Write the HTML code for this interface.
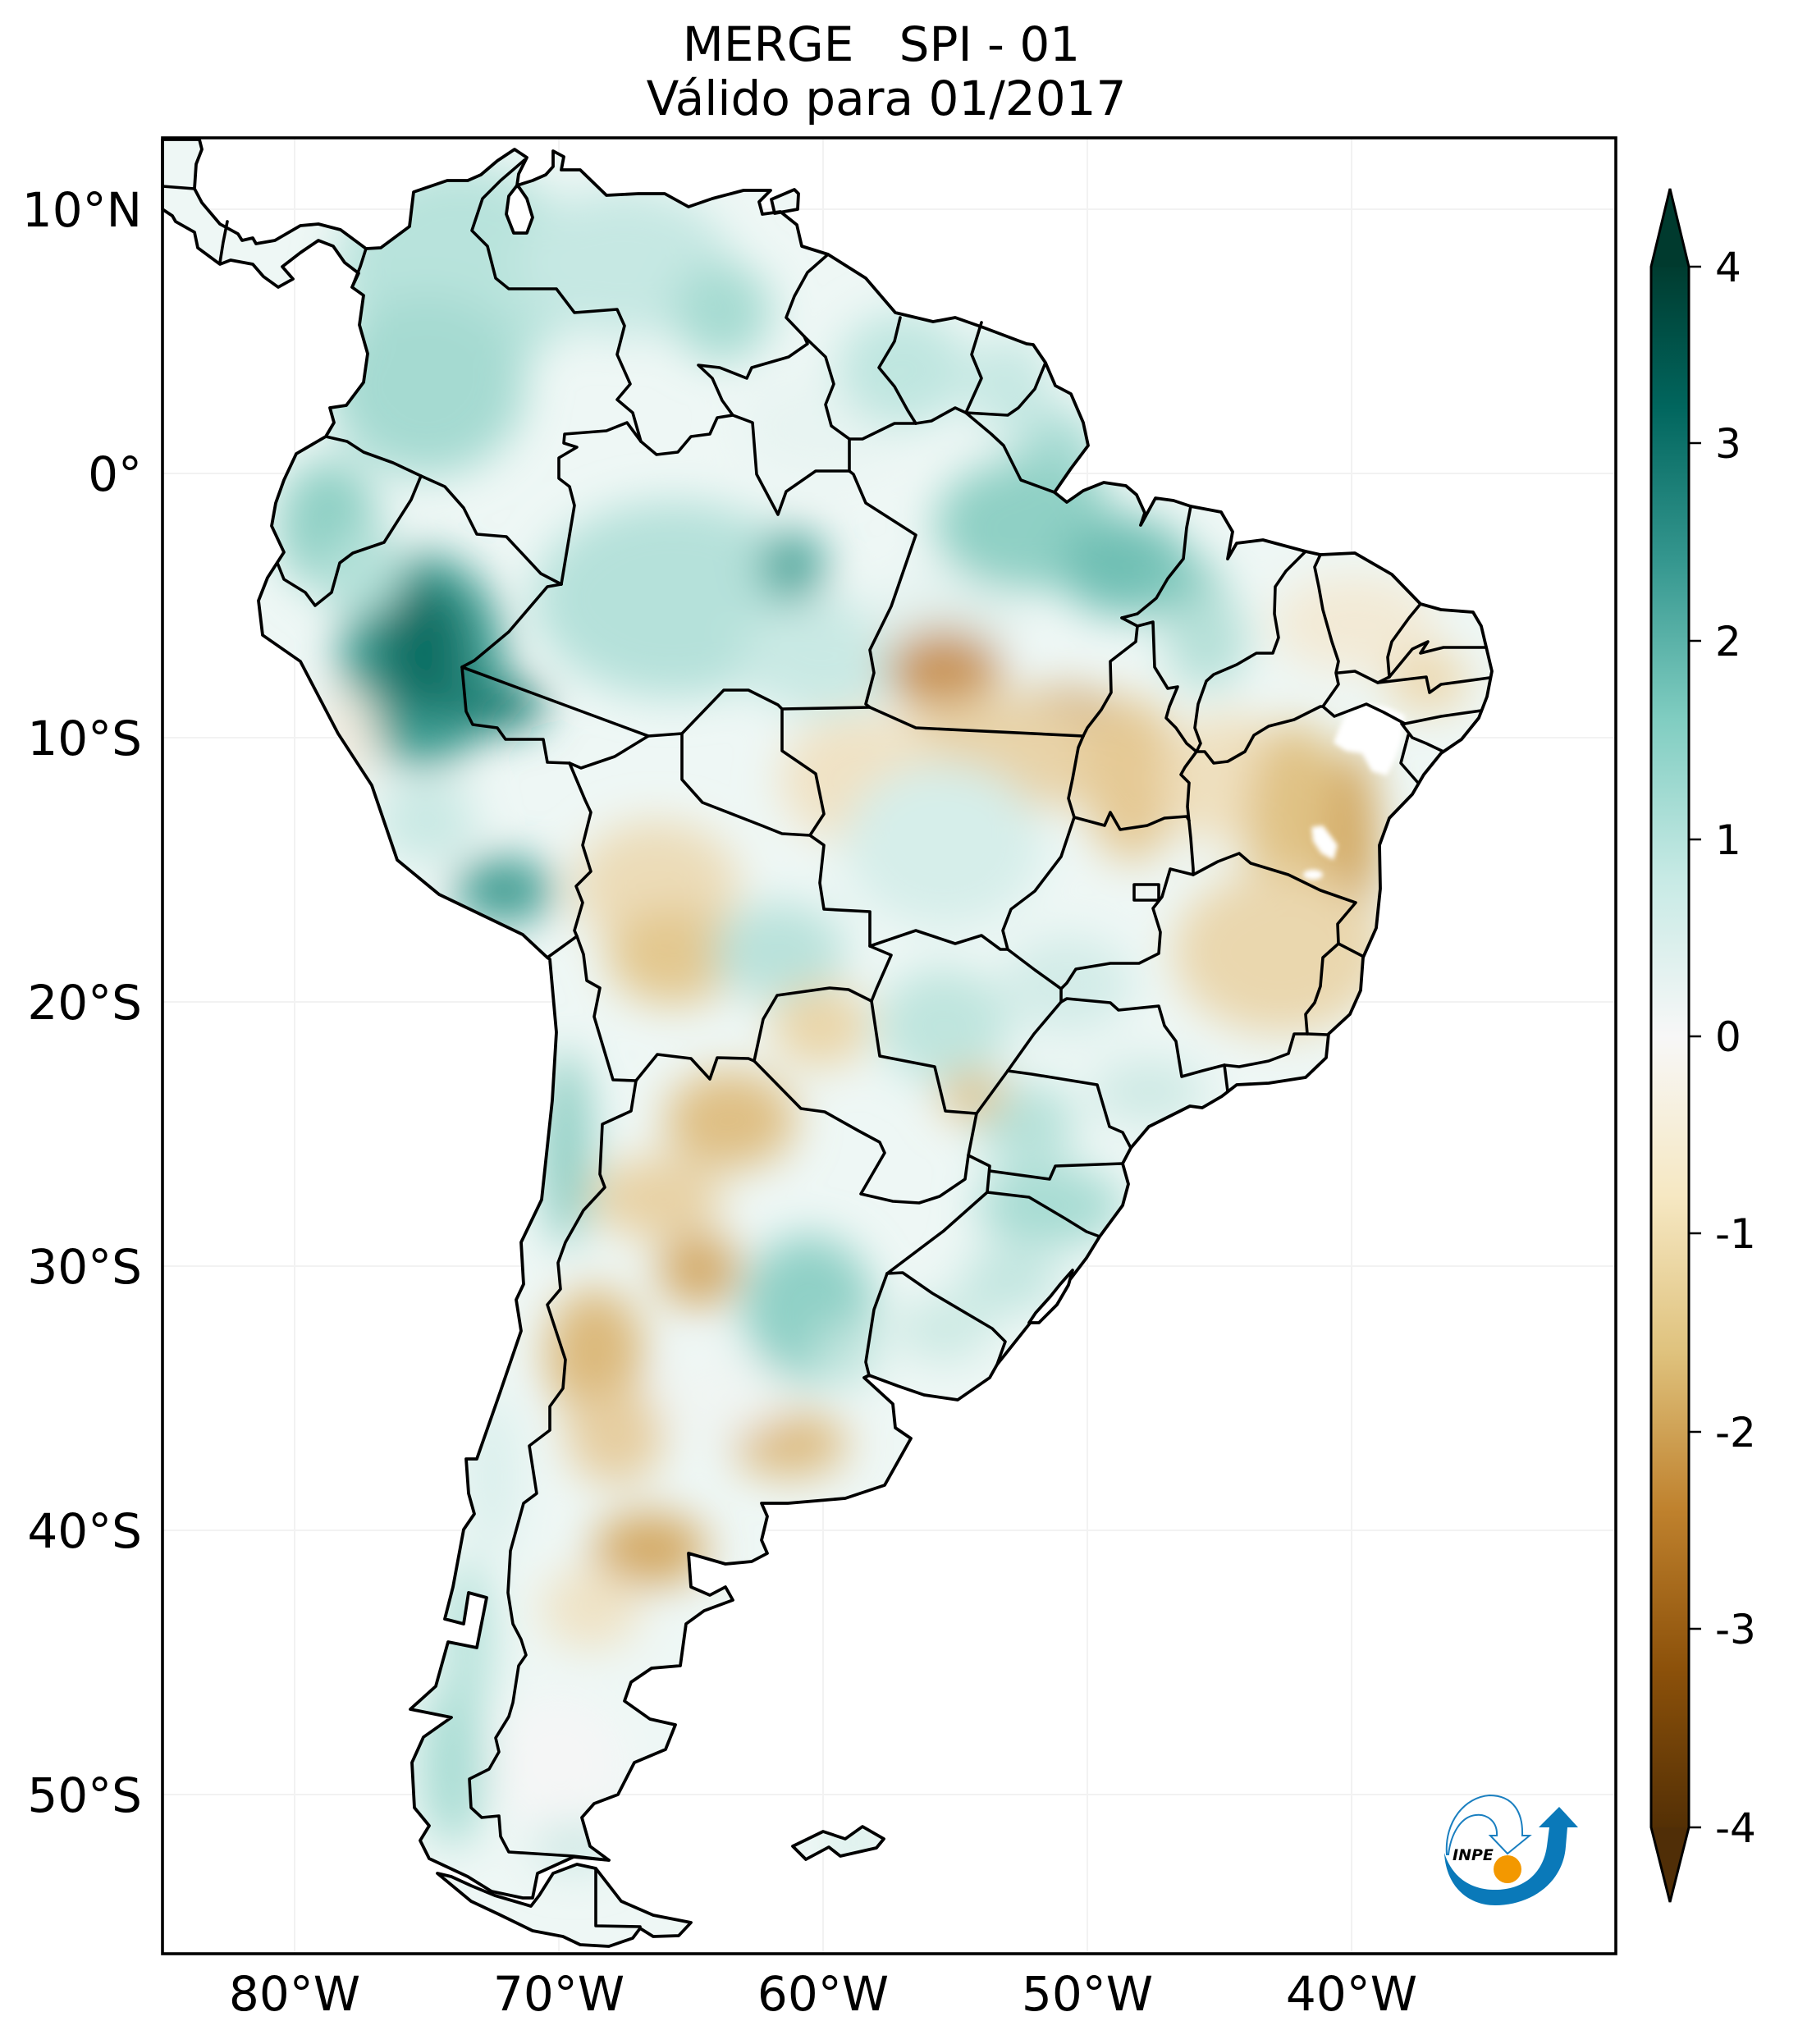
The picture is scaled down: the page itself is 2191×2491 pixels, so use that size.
<!DOCTYPE html>
<html><head><meta charset="utf-8"><style>
html,body{margin:0;padding:0;background:#fff;}
svg{display:block;}
text{font-family:"DejaVu Sans","Liberation Sans",sans-serif;fill:#000;}
</style></head><body>
<svg width="2191" height="2491" viewBox="0 0 2191 2491" xmlns="http://www.w3.org/2000/svg">
<defs>
<path id="main" d="M198,170 L243,170 246,182 239,200 237,230 246,247 268,273 290,285 295,293 308,290 312,297 335,293 366,275 388,273 415,280 446,303 464,302 499,276 504,234 545,220 570,220 586,213 606,196 627,182 642,192 632,212 630,226 649,220 665,213 674,203 674,184 687,191 684,207 707,207 739,238 778,236 810,236 839,252 868,242 906,232 939,232 925,246 929,261 951,258 971,274 977,300 1009,310 1055,339 1091,381 1137,392 1164,387 1198,399 1251,419 1259,420 1274,442 1286,470 1305,480 1320,515 1326,543 1305,571 1285,600 1300,612 1320,598 1345,588 1372,592 1385,603 1395,625 1390,640 1408,607 1430,610 1451,617 1488,624 1502,648 1496,681 1507,662 1539,658 1591,672 1609,676 1651,674 1696,700 1731,736 1756,743 1795,746 1805,763 1818,818 1812,849 1802,875 1781,901 1756,918 1735,944 1721,968 1693,997 1681,1030 1682,1083 1677,1131 1661,1167 1658,1207 1645,1236 1619,1260 1616,1289 1591,1313 1546,1320 1507,1322 1489,1336 1465,1350 1450,1348 1400,1373 1378,1399 1368,1418 1375,1443 1368,1469 1340,1507 1324,1533 1305,1558 1273,1590 1250,1619 1215,1663 1206,1679 1167,1706 1126,1700 1094,1689 1059,1676 1053,1679 1088,1711 1091,1740 1110,1753 1078,1810 1030,1826 960,1832 928,1832 935,1848 928,1877 935,1893 916,1903 884,1906 839,1893 842,1934 865,1944 884,1934 893,1950 858,1963 836,1979 829,2030 794,2033 769,2050 761,2073 792,2095 823,2102 811,2132 773,2148 753,2187 724,2198 709,2215 719,2250 742,2267 699,2263 655,2283 649,2313 637,2313 599,2305 570,2287 523,2265 512,2243 523,2225 505,2203 502,2148 516,2117 550,2093 500,2083 531,2055 546,2001 581,2008 593,1947 571,1941 565,1979 542,1973 552,1934 565,1864 578,1845 571,1820 568,1778 581,1778 609,1698 635,1622 629,1584 638,1565 635,1514 660,1462 673,1341 678,1258 670,1169 667,1167 637,1139 535,1090 484,1048 453,957 412,894 366,806 320,774 315,732 326,704 346,673 331,641 336,613 346,585 361,553 397,532 407,515 402,497 422,494 443,466 448,431 438,396 443,360 429,350 437,333 420,320 406,300 388,293 366,308 344,325 357,340 339,350 321,337 308,322 281,317 268,322 241,302 237,283 214,270 210,263 198,255 Z"/>
<path id="tdf" d="M647,2323 L657,2310 674,2283 703,2272 726,2277 757,2317 796,2334 842,2343 827,2359 796,2360 780,2350 771,2362 742,2372 707,2370 686,2360 649,2353 608,2333 574,2317 533,2283 550,2287 574,2298 603,2310 Z"/>
<path id="falk" d="M966,2250 L1003,2232 1030,2241 1051,2226 1077,2241 1068,2252 1024,2262 1010,2251 982,2266 Z"/>
<path id="trin" d="M940,243 L968,231 973,236 972,255 944,260 Z"/>
<clipPath id="landclip">
<use href="#main"/><use href="#tdf"/><use href="#falk"/><use href="#trin"/>
</clipPath>
<filter id="blur" filterUnits="userSpaceOnUse" x="0" y="0" width="2191" height="2491">
<feGaussianBlur stdDeviation="26"/>
</filter>
<filter id="blur2" filterUnits="userSpaceOnUse" x="0" y="0" width="2191" height="2491">
<feGaussianBlur stdDeviation="3"/>
</filter>
<linearGradient id="cbg" gradientUnits="userSpaceOnUse" x1="0" y1="325" x2="0" y2="2227">
<stop offset="0" stop-color="#003c30"/>
<stop offset="0.0904" stop-color="#01665e"/>
<stop offset="0.1893" stop-color="#35978f"/>
<stop offset="0.2902" stop-color="#80cdc1"/>
<stop offset="0.3917" stop-color="#c7eae5"/>
<stop offset="0.4932" stop-color="#f7f7f7"/>
<stop offset="0.5946" stop-color="#f6e8c3"/>
<stop offset="0.6961" stop-color="#dfc27d"/>
<stop offset="0.7970" stop-color="#bf812d"/>
<stop offset="0.8985" stop-color="#8c510a"/>
<stop offset="1" stop-color="#543005"/>
</linearGradient>
</defs>

<!-- faint gridlines -->
<g stroke="#f2f2f2" stroke-width="2" fill="none">
<line x1="359" y1="170" x2="359" y2="2381"/><line x1="681" y1="170" x2="681" y2="2381"/><line x1="1003" y1="170" x2="1003" y2="2381"/><line x1="1325" y1="170" x2="1325" y2="2381"/><line x1="1647" y1="170" x2="1647" y2="2381"/>
<line x1="198" y1="255" x2="1969" y2="255"/><line x1="198" y1="577" x2="1969" y2="577"/><line x1="198" y1="899" x2="1969" y2="899"/><line x1="198" y1="1221" x2="1969" y2="1221"/><line x1="198" y1="1543" x2="1969" y2="1543"/><line x1="198" y1="1865" x2="1969" y2="1865"/><line x1="198" y1="2187" x2="1969" y2="2187"/>
</g>

<!-- land fill -->
<g clip-path="url(#landclip)">
<rect x="198" y="168" width="1771" height="2213" fill="#eef7f5"/>
<g filter="url(#blur)">
<ellipse cx="560" cy="330" rx="150" ry="130" fill="#b8e3dc"/>
<ellipse cx="520" cy="470" rx="120" ry="110" fill="#a5dad1"/>
<ellipse cx="760" cy="320" rx="130" ry="90" fill="#c6e8e3"/>
<ellipse cx="880" cy="380" rx="60" ry="60" fill="#a6dbd2"/>
<ellipse cx="1000" cy="520" rx="100" ry="60" fill="#e8f4f2"/>
<ellipse cx="1100" cy="450" rx="80" ry="70" fill="#bfe6e0"/>
<ellipse cx="1230" cy="470" rx="50" ry="60" fill="#c6e8e3"/>
<ellipse cx="1290" cy="560" rx="50" ry="60" fill="#a8dcd4"/>
<ellipse cx="820" cy="730" rx="170" ry="120" fill="#b5e1da"/>
<ellipse cx="966" cy="690" rx="40" ry="45" fill="#4fa79d"/>
<ellipse cx="1000" cy="800" rx="100" ry="70" fill="#c9e9e4"/>
<ellipse cx="1250" cy="640" rx="110" ry="80" fill="#8fd0c5"/>
<ellipse cx="1370" cy="690" rx="80" ry="60" fill="#6fbfb4"/>
<ellipse cx="1440" cy="720" rx="50" ry="40" fill="#7ec7bc"/>
<ellipse cx="1150" cy="760" rx="90" ry="60" fill="#e3f2ef"/>
<ellipse cx="515" cy="805" rx="100" ry="130" fill="#3e9d92"/>
<ellipse cx="515" cy="790" rx="55" ry="80" fill="#0f6e64"/>
<ellipse cx="605" cy="860" rx="60" ry="30" fill="#177a70"/>
<ellipse cx="400" cy="640" rx="60" ry="80" fill="#8fd0c5"/>
<ellipse cx="440" cy="700" rx="50" ry="50" fill="#b5e2da"/>
<ellipse cx="420" cy="900" rx="40" ry="60" fill="#f2ece0"/>
<ellipse cx="615" cy="1085" rx="60" ry="40" fill="#3f9c92"/>
<ellipse cx="520" cy="1000" rx="60" ry="50" fill="#c9e9e4"/>
<ellipse cx="1150" cy="815" rx="70" ry="50" fill="#c9955a"/>
<ellipse cx="1290" cy="875" rx="80" ry="35" fill="#c79a5e"/>
<ellipse cx="1220" cy="920" rx="150" ry="70" fill="#e8d3a8"/>
<ellipse cx="1050" cy="950" rx="100" ry="80" fill="#f0e2c4"/>
<ellipse cx="1150" cy="1030" rx="120" ry="100" fill="#d6eeea"/>
<ellipse cx="1380" cy="950" rx="60" ry="100" fill="#e5c994"/>
<ellipse cx="1500" cy="950" rx="80" ry="80" fill="#efe0bf"/>
<ellipse cx="1580" cy="1000" rx="60" ry="120" fill="#e0c285"/>
<ellipse cx="1650" cy="1030" rx="30" ry="120" fill="#d2a862"/>
<ellipse cx="1560" cy="1160" rx="130" ry="100" fill="#ead7ae"/>
<ellipse cx="1470" cy="780" rx="50" ry="60" fill="#b5e0d8"/>
<ellipse cx="1650" cy="760" rx="100" ry="60" fill="#f3ead6"/>
<ellipse cx="1740" cy="830" rx="50" ry="40" fill="#ecd9b1"/>
<ellipse cx="1300" cy="1200" rx="80" ry="60" fill="#d3ece8"/>
<ellipse cx="1150" cy="1250" rx="80" ry="70" fill="#bfe5de"/>
<ellipse cx="1400" cy="1330" rx="70" ry="40" fill="#cfeae5"/>
<ellipse cx="1250" cy="1370" rx="60" ry="50" fill="#b5e1d9"/>
<ellipse cx="1280" cy="1470" rx="90" ry="50" fill="#a7dcd3"/>
<ellipse cx="1230" cy="1560" rx="60" ry="40" fill="#c2e6e0"/>
<ellipse cx="1185" cy="1335" rx="40" ry="30" fill="#e0c38a"/>
<ellipse cx="800" cy="1080" rx="100" ry="80" fill="#ecdcb8"/>
<ellipse cx="820" cy="1165" rx="80" ry="60" fill="#e3c88f"/>
<ellipse cx="950" cy="1160" rx="80" ry="60" fill="#b9e2db"/>
<ellipse cx="1000" cy="1250" rx="60" ry="50" fill="#ead5a8"/>
<ellipse cx="890" cy="1365" rx="80" ry="60" fill="#dfbf84"/>
<ellipse cx="800" cy="1460" rx="80" ry="50" fill="#e8d2a5"/>
<ellipse cx="690" cy="1400" rx="30" ry="120" fill="#8ccdc2"/>
<ellipse cx="852" cy="1548" rx="50" ry="45" fill="#d4ab6b"/>
<ellipse cx="985" cy="1595" rx="80" ry="90" fill="#8fd0c6"/>
<ellipse cx="725" cy="1650" rx="60" ry="80" fill="#dcb97b"/>
<ellipse cx="750" cy="1750" rx="60" ry="60" fill="#e6cea0"/>
<ellipse cx="962" cy="1760" rx="70" ry="40" fill="#ddbb80"/>
<ellipse cx="880" cy="1700" rx="80" ry="50" fill="#f0f5f3"/>
<ellipse cx="792" cy="1888" rx="70" ry="45" fill="#d4aa66"/>
<ellipse cx="720" cy="1960" rx="60" ry="50" fill="#efe3c6"/>
<ellipse cx="1150" cy="1620" rx="60" ry="40" fill="#cdeae4"/>
<ellipse cx="1030" cy="1650" rx="40" ry="40" fill="#bfe4dd"/>
<ellipse cx="600" cy="1800" rx="30" ry="100" fill="#d9efec"/>
<ellipse cx="570" cy="2000" rx="30" ry="100" fill="#b5e2da"/>
<ellipse cx="552" cy="2150" rx="40" ry="100" fill="#a9ddd4"/>
<ellipse cx="680" cy="2150" rx="80" ry="80" fill="#f5f6f6"/>
<ellipse cx="700" cy="2250" rx="50" ry="30" fill="#cfe9e5"/>
<ellipse cx="1040" cy="2245" rx="30" ry="12" fill="#b5e2da"/>
</g>
<g fill="#ffffff" filter="url(#blur2)">
<path d="M1640,870 L1665,858 1690,862 1712,872 1708,900 1700,925 1690,945 1672,940 1660,918 1640,915 1625,905 1632,888 Z"/>
<path d="M1598,1008 L1612,1006 1630,1030 1625,1048 1610,1040 1600,1025 Z"/>
<ellipse cx="1600" cy="1066" rx="12" ry="6"/>
</g>
</g>

<!-- coast outlines -->
<g fill="none" stroke="#000" stroke-width="3.8" stroke-linejoin="round" stroke-linecap="round">
<use href="#main"/><use href="#tdf"/><use href="#falk"/><use href="#trin"/>
<path d="M630,226 L620,239 617,261 626,284 642,284 649,265 642,242 633,229 Z" fill="#fff"/>
<path d="M1254,1612 L1262,1600 1280,1580 1292,1565 1307,1548 1302,1566 1288,1590 1266,1612 Z" fill="#fff"/>
</g>

<!-- borders -->
<g fill="none" stroke="#000" stroke-width="3.6" stroke-linejoin="round" stroke-linecap="round">
<polyline points="446,303 439,325 429,350"/>
<polyline points="198,227 237,230"/>
<polyline points="277,270 272,295 268,320"/>
<polyline points="639,195 610,220 588,242 575,281 594,300 604,339 620,352 678,352 700,381 752,377 761,397 752,432 768,468 752,487 771,503 781,538"/>
<polyline points="781,538 764,515 739,525 688,529 687,540 703,545 681,558 681,583 694,593 700,616 684,712"/>
<polyline points="684,712 659,699 617,654 581,651 565,619 542,593 513,580"/>
<polyline points="513,580 479,564 443,551 423,538 397,532"/>
<polyline points="513,580 501,609 468,661 430,674 414,686 404,722 384,738 372,722 346,706 338,686"/>
<polyline points="684,712 667,715 620,770 578,805 563,813 568,867 576,883 606,887 616,901 662,901 667,929 694,930"/>
<polyline points="694,930 713,975 720,990 710,1030 720,1062 702,1080 710,1100 700,1134 703,1141"/>
<polyline points="667,1167 703,1141"/>
<polyline points="703,1141 711,1163 715,1195 731,1204 724,1239 747,1316 775,1317"/>
<polyline points="775,1317 769,1354 734,1370 731,1431 737,1447 711,1475 689,1514 680,1539 683,1571 667,1590 689,1657 686,1692 670,1714 670,1743 645,1762 654,1820 638,1832 622,1890 619,1941 625,1979 635,1998 641,2017 632,2030 625,2075 620,2092 604,2118 608,2135 596,2156 572,2168 574,2203 587,2215 608,2213 610,2238 620,2257 699,2262 742,2267"/>
<polyline points="726,2277 726,2347 780,2348"/>
<polyline points="775,1317 801,1285 842,1290 865,1315 874,1289 912,1290 919,1293"/>
<polyline points="919,1293 930,1242 947,1213 1011,1204 1034,1206 1062,1220"/>
<polyline points="919,1293 976,1351 1005,1355 1046,1378 1072,1392 1078,1405 1049,1455 1088,1464 1120,1466 1145,1458 1176,1437 1180,1408"/>
<polyline points="1062,1220 1072,1287 1139,1300 1152,1354 1190,1357 1180,1408"/>
<polyline points="1180,1408 1206,1421 1203,1453 1150,1500 1081,1552"/>
<polyline points="1081,1552 1065,1596 1055,1660 1059,1676"/>
<polyline points="1081,1552 1100,1551 1136,1576 1209,1619 1225,1635 1215,1663"/>
<polyline points="694,930 708,936 749,922 790,897 831,894 831,950 856,978 928,1006 953,1016 987,1018 1004,1030 999,1076 1004,1108 1060,1111 1060,1153 1086,1164 1068,1205 1062,1220"/>
<polyline points="781,538 800,554 826,551 842,532 865,529 874,509 893,506 880,488 868,461 851,445 877,448 910,461 916,448 961,435 984,419 980,410"/>
<polyline points="1009,310 984,332 968,361 958,387 980,410"/>
<polyline points="980,410 1006,435 1016,468 1006,493 1013,519 1035,535 1051,535 1090,516 1116,516"/>
<polyline points="1097,387 1090,416 1071,448 1090,471 1106,500 1116,516"/>
<polyline points="1116,516 1135,513 1164,497 1177,503"/>
<polyline points="1196,393 1184,432 1196,461 1177,503"/>
<polyline points="1177,503 1228,506 1241,497 1261,474 1274,442"/>
<!-- Brazilian states -->
<polyline points="1177,503 1208,529 1223,543 1244,585 1285,600"/>
<polyline points="893,506 917,515 922,578 948,627 958,599 994,574 1035,574"/>
<polyline points="1035,535 1035,574"/>
<polyline points="1035,574 1040,578 1055,613 1116,652 1086,739 1060,792 1065,820 1055,858 1060,862"/>
<polyline points="563,813 790,897"/>
<polyline points="831,894 882,841 912,841 948,859 953,864 1060,862"/>
<polyline points="953,864 953,915 994,943 1004,992 987,1018"/>
<polyline points="1060,862 1116,887 1320,897"/>
<polyline points="1451,617 1446,643 1442,681 1423,705 1409,729 1386,748 1367,753"/>
<polyline points="1367,753 1386,763 1384,782 1353,806 1354,844 1342,865 1325,887 1320,897"/>
<polyline points="1320,897 1314,911 1307,949 1302,973 1309,996"/>
<polyline points="1386,763 1405,758 1407,813 1423,839 1435,837 1425,861 1421,875 1433,887 1446,906 1458,916"/>
<polyline points="1591,672 1567,696 1554,715 1553,748 1558,777 1551,796 1531,796 1507,810 1479,822 1470,830 1460,858 1456,887 1463,906 1458,916"/>
<polyline points="1458,916 1444,935 1439,944 1449,954 1447,983 1451,1021 1454,1059 1454,1066"/>
<polyline points="1309,996 1346,1006 1353,990 1365,1011 1398,1006 1419,997 1446,995 1449,1000"/>
<polyline points="1458,916 1468,916 1479,930 1496,928 1517,916 1528,896 1546,885 1577,877 1609,861 1612,861"/>
<polyline points="1609,676 1602,691 1607,715 1612,743 1623,782 1631,806 1628,820 1631,834 1612,861"/>
<polyline points="1731,736 1717,753 1696,782 1691,801 1693,825"/>
<polyline points="1631,820 1651,818 1679,832 1693,825"/>
<polyline points="1693,825 1721,791 1740,782 1731,796 1759,789 1810,789"/>
<polyline points="1679,832 1738,825 1742,844 1756,834 1815,826"/>
<polyline points="1612,861 1626,873 1665,858 1686,868 1712,882"/>
<polyline points="1712,882 1756,873 1805,866"/>
<polyline points="1708,882 1721,899 1738,906 1759,916"/>
<polyline points="1716,896 1707,930 1728,954"/>
<polyline points="1454,1066 1484,1050 1510,1040 1524,1052 1570,1066 1609,1085 1652,1100 1630,1126 1631,1150"/>
<polyline points="1631,1150 1660,1165"/>
<polyline points="1631,1150 1612,1167 1609,1202 1602,1222 1591,1236 1593,1260"/>
<polyline points="1593,1260 1618,1261"/>
<polyline points="1593,1260 1577,1260 1570,1284 1546,1293 1510,1300 1492,1298"/>
<polyline points="1492,1298 1465,1305 1440,1312 1433,1269 1419,1250 1412,1226 1363,1231 1353,1222 1300,1217 1293,1221"/>
<polyline points="1492,1298 1496,1330"/>
<polyline points="1293,1205 1300,1198 1311,1181 1353,1174 1388,1174 1412,1162 1414,1136 1405,1107 1416,1093 1426,1059 1454,1066"/>
<rect x="1382" y="1078" width="30" height="19"/>
<polyline points="1309,996 1293,1044 1261,1086 1232,1108 1222,1134 1228,1157"/>
<polyline points="1228,1157 1261,1182 1293,1205 1293,1221"/>
<polyline points="1060,1153 1116,1134 1164,1150 1196,1140 1219,1157 1228,1157"/>
<polyline points="1293,1221 1260,1260 1228,1305 1190,1357"/>
<polyline points="1228,1305 1257,1309 1337,1322 1352,1373 1368,1380 1378,1399"/>
<polyline points="1206,1427 1279,1437 1286,1421 1368,1418"/>
<polyline points="1203,1453 1254,1459 1298,1485 1324,1501 1340,1507"/>
</g>

<!-- INPE logo -->
<g>
<path d="M1760,2258 C1762,2300 1790,2322 1822,2322 C1865,2322 1905,2295 1908,2250 L1910,2227 L1923,2227 L1900,2202 L1875,2227 L1888,2227 L1885,2250 C1880,2285 1855,2302 1825,2303 C1795,2304 1770,2290 1760,2258 Z" fill="#0a79b9"/>
<path d="M1763,2260 C1760,2220 1785,2190 1815,2188 C1845,2188 1856,2210 1855,2237 L1864,2237 L1837,2259 L1816,2237 L1824,2237 C1825,2220 1812,2210 1798,2212 C1780,2214 1768,2235 1765,2260 Z" fill="#fff" stroke="#1a7fc0" stroke-width="2"/>
<circle cx="1837" cy="2278" r="17" fill="#f39800"/>
<text x="1770" y="2267" font-size="19" font-style="italic" font-weight="bold">INPE</text>
</g>

<!-- frame -->
<rect x="198" y="168" width="1771" height="2213" fill="none" stroke="#000" stroke-width="3.6"/>

<!-- title -->
<text x="1074" y="74" font-size="58" text-anchor="middle" xml:space="preserve" style="white-space:pre">MERGE   SPI - 01</text>
<text x="1080" y="140" font-size="58" text-anchor="middle">Válido para 01/2017</text>

<!-- y labels -->
<g font-size="58" text-anchor="end">
<text x="173" y="276">10°N</text>
<text x="173" y="598">0°</text>
<text x="173" y="920">10°S</text>
<text x="173" y="1242">20°S</text>
<text x="173" y="1564">30°S</text>
<text x="173" y="1886">40°S</text>
<text x="173" y="2208">50°S</text>
</g>
<!-- x labels -->
<g font-size="58" text-anchor="middle">
<text x="359" y="2450">80°W</text>
<text x="681" y="2450">70°W</text>
<text x="1003" y="2450">60°W</text>
<text x="1325" y="2450">50°W</text>
<text x="1647" y="2450">40°W</text>
</g>

<!-- colorbar -->
<path d="M2012,325 L2035,230 L2058,325 Z" fill="#003a2e"/>
<path d="M2012,2227 L2035,2318 L2058,2227 Z" fill="#502e07"/>
<rect x="2012" y="325" width="46" height="1902" fill="url(#cbg)"/>
<path d="M2012,325 L2035,230 L2058,325 L2058,2227 L2035,2318 L2012,2227 Z" fill="none" stroke="#000" stroke-width="3" stroke-linejoin="miter"/>
<g stroke="#000" stroke-width="2.5">
<line x1="2058" y1="325" x2="2073" y2="325"/>
<line x1="2058" y1="540" x2="2073" y2="540"/>
<line x1="2058" y1="781" x2="2073" y2="781"/>
<line x1="2058" y1="1023" x2="2073" y2="1023"/>
<line x1="2058" y1="1263" x2="2073" y2="1263"/>
<line x1="2058" y1="1503" x2="2073" y2="1503"/>
<line x1="2058" y1="1745" x2="2073" y2="1745"/>
<line x1="2058" y1="1985" x2="2073" y2="1985"/>
<line x1="2058" y1="2227" x2="2073" y2="2227"/>
</g>
<g font-size="50">
<text x="2090" y="343">4</text>
<text x="2090" y="558">3</text>
<text x="2090" y="799">2</text>
<text x="2090" y="1041">1</text>
<text x="2090" y="1281">0</text>
<text x="2090" y="1521">-1</text>
<text x="2090" y="1763">-2</text>
<text x="2090" y="2003">-3</text>
<text x="2090" y="2245">-4</text>
</g>
</svg>
</body></html>
